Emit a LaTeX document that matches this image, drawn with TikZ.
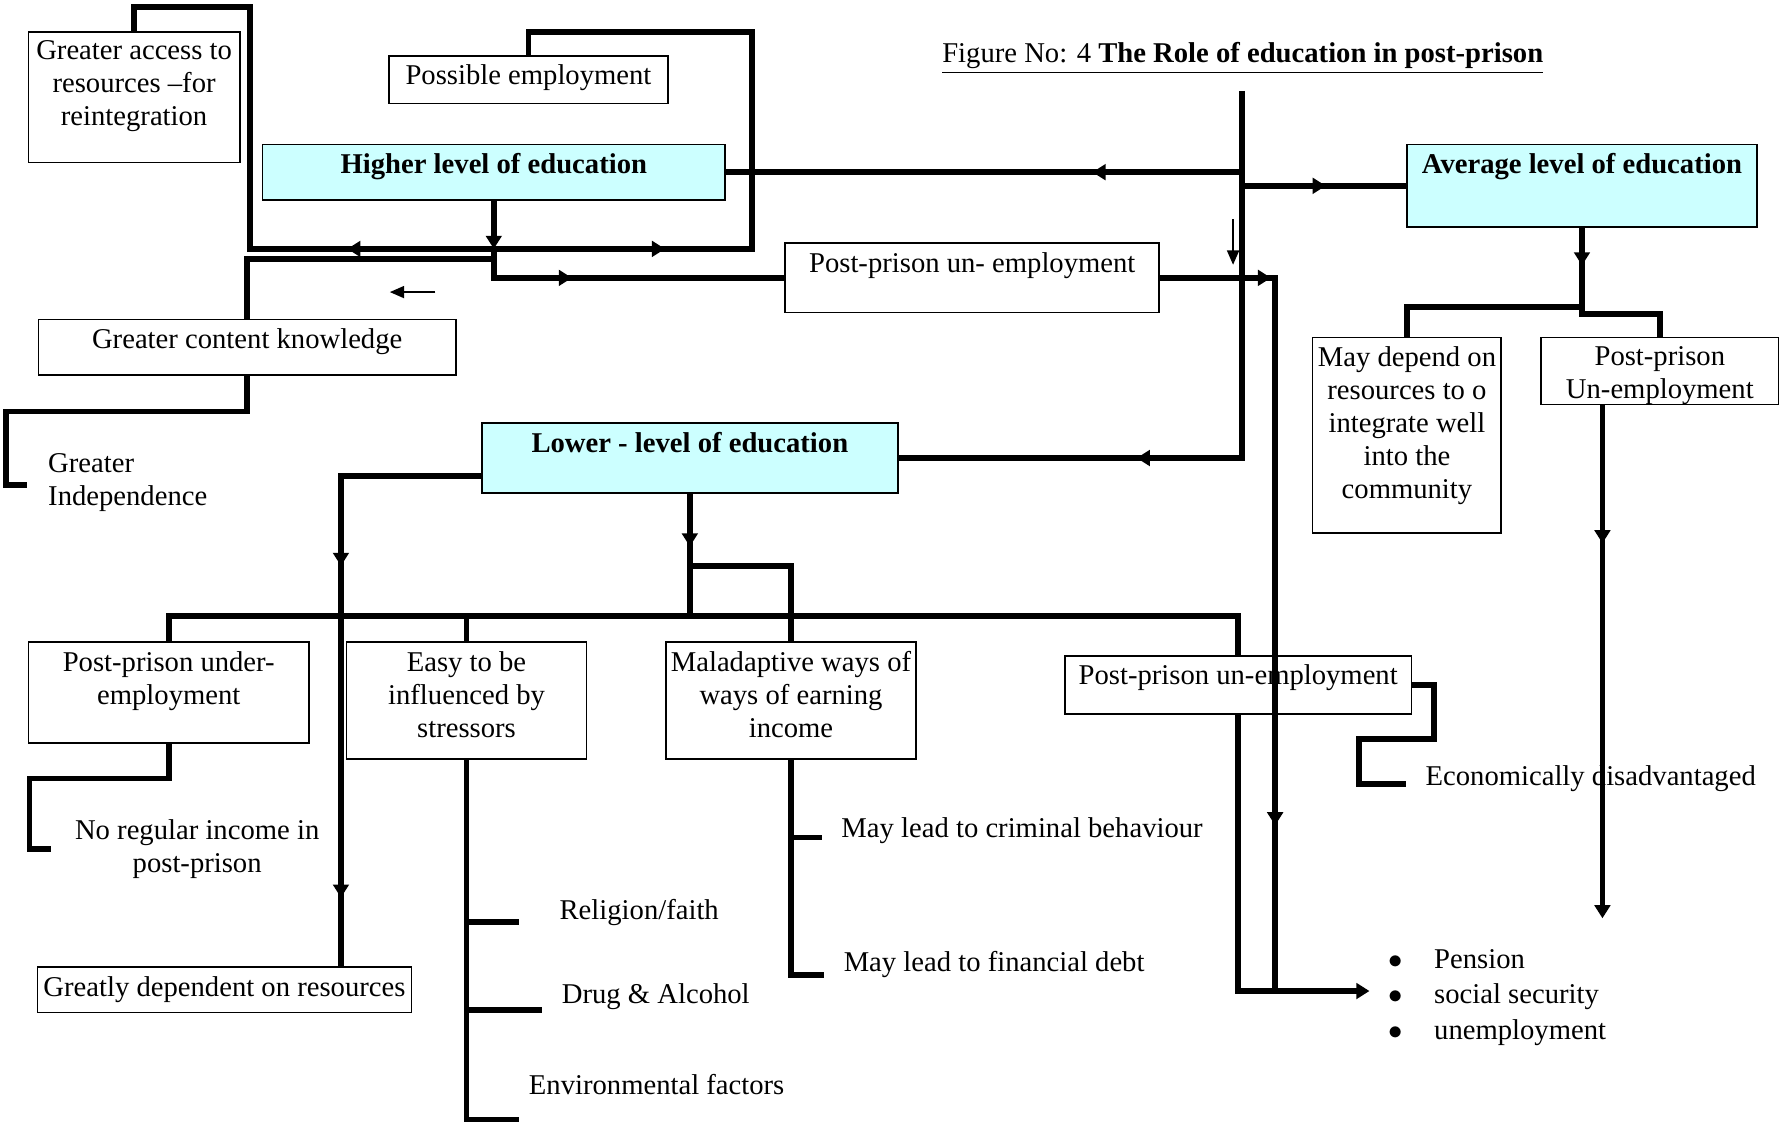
\documentclass[tikz,border=0pt]{standalone}
\usepackage{fontspec}
\setmainfont{Liberation Serif}
\usetikzlibrary{positioning,fit,arrows.meta,decorations.markings}

\definecolor{educyan}{HTML}{CCFFFF}

\tikzset{
  box/.style={draw, line width=0.7pt, inner sep=0pt},
  edubox/.style={box, fill=educyan},
  txt/.style={font=\fontsize{12}{13.8}\selectfont, inner sep=0pt, align=center},
  btxt/.style={txt, font=\fontsize{12}{13.8}\selectfont\bfseries},
  conn/.style={line width=2.4pt},
  tip/.style={-{Triangle[length=5.5pt,width=6.5pt]}},
  thinarr/.style={line width=0.8pt, -{Triangle[length=6pt,width=5pt]}},
  marr/.style={postaction={decorate, decoration={markings,
      mark=at position #1 with {\arrow{Triangle[length=5.5pt,width=6.5pt]}}}}},
}
\newcommand{\bigbul}{\makebox[19.3pt][l]{$\bullet$}}

\begin{document}
\begin{tikzpicture}[x=0.476pt, y=-0.476pt]
\useasboundingbox (0,0) rectangle (1568,988);

% Title
\node[txt, anchor=base] (title) at (1093.5,55) {\underline{Figure No: 4 \textbf{The Role of education in post-prison}}};

% Boxes
\node[box, fit={(25,28) (211,143)}] (gacc) {};
\node[txt, below=4pt of gacc.north] (gacc-t) {Greater access to\\resources --for\\reintegration};
\node[box, fit={(342,49) (588,91)}] (posemp) {};
\node[txt, below=4pt of posemp.north] (posemp-t) {Possible employment};
\node[edubox, fit={(231,127) (638,176)}] (high) {};
\node[btxt, below=4pt of high.north] (high-t) {Higher level of education};
\node[box, fit={(691,214) (1020,275)}] (unemp) {};
\node[txt, below=4pt of unemp.north] (unemp-t) {Post-prison un- employment};
\node[box, fit={(34,281) (401,330)}] (gck) {};
\node[txt, below=4pt of gck.north] (gck-t) {Greater content knowledge};
\node[edubox, fit={(1238,127) (1546,200)}] (avg) {};
\node[btxt, below=4pt of avg.north] (avg-t) {Average level of education};
\node[box, fit={(1155,297) (1321,469)}] (mayd) {};
\node[txt, below=4pt of mayd.north] (mayd-t) {May depend on\\resources to o\\integrate well\\into the\\community};
\node[box, fit={(1356,297) (1565,356)}] (ppun) {};
\node[txt, below=4pt of ppun.north] (ppun-t) {Post-prison\\Un-employment};
\node[edubox, fit={(424,372) (790,434)}] (low) {};
\node[btxt, below=4pt of low.north] (low-t) {Lower - level of education};
\node[box, fit={(25,565) (272,654)}] (under) {};
\node[txt, below=4pt of under.north] (under-t) {Post-prison under-\\employment};
\node[box, fit={(305,565) (516,668)}] (easy) {};
\node[txt, below=4pt of easy.north] (easy-t) {Easy to be\\influenced by\\stressors};
\node[box, fit={(586,565) (806,668)}] (malad) {};
\node[txt, below=4pt of malad.north] (malad-t) {Maladaptive ways of\\ways of earning\\income};
\node[box, fit={(937,577) (1242,628)}] (unemp2) {};
\node[box, fit={(33,851) (362,891)}] (gdep) {};
\node[txt, below=4pt of gdep.north] (gdep-t) {Greatly dependent on resources};

% Free texts
\node[txt, align=left, anchor=north west] (indep) at (42,399) {Greater\\Independence};
\node[txt, anchor=north] (noinc) at (173.5,721) {No regular income in\\post-prison};
\node[txt, anchor=west] (relig) at (492,803) {Religion/faith};
\node[txt, anchor=west] (drug) at (494,877) {Drug \& Alcohol};
\node[txt, anchor=west] (env) at (465,954) {Environmental factors};
\node[txt, anchor=west] (crim) at (740,731) {May lead to criminal behaviour};
\node[txt, anchor=west] (debt) at (742,849) {May lead to financial debt};
\node[txt, anchor=west] (econ) at (1254,685) {Economically disadvantaged};
\node[txt, align=left, anchor=north west, font=\fontsize{12}{14.8}\selectfont] (bul) at (1221,835)
  {\bigbul Pension\\\bigbul social security\\\bigbul unemployment};

% Higher level branches
\coordinate (hj) at (434.5,219);
\coordinate (hk) at (434.5,228);
\draw[conn, tip] (high.south) -- (hj);
\draw[conn, marr=0.234] (hj) -- (220,219) -- (220,6) -| (gacc.north);
\draw[conn, marr=0.237] (hj) -- (662,219) -- (662,28) -| (posemp.north);
\draw[conn, marr=0.335] (hj) |- (unemp.west);
\draw[conn] (hk) -| (gck.north);
\coordinate (s1) at (383,257);
\coordinate (s2) at (343,257);
\draw[thinarr] (s1) -- (s2);
\coordinate (indep-in) at (24,427);
\draw[conn] (gck.south) |- (5,362) |- (indep-in);

% Centre line
\coordinate (ctop) at (1093,80);
\draw[conn, marr=0.665] (ctop) |- (low.east);
\draw[conn, marr=0.29] (ctop |- high.east) -- (high.east);
\draw[conn, marr=0.51] (ctop |- avg.west) -- (avg.west);
\coordinate (t1) at (1085,193);
\coordinate (t2) at (1085,233);
\draw[thinarr] (t1) -- (t2);

% Un-employment to benefits
\coordinate (bj) at (1122,872);
\coordinate (barr) at (1205,872);
\draw[conn, marr=0.134, marr=0.80] (unemp.east) -| (bj);

% Lower level branches
\coordinate (lj) at (607,542);
\coordinate (lm) at (607,498);
\draw[conn, marr=0.43] (low.south) -- (lj);
\draw[conn] (under.north) |- (lj) -| (unemp2.north);
\draw[conn] (easy.north) -- (easy.north |- lj);
\draw[conn] (lm) -| (malad.north);
\coordinate (lw) at (424,419);
\coordinate (gdep-in) at (300,851);
\draw[conn, marr=0.365, marr=0.89] (lw) -| (gdep-in);
\coordinate (noinc-in) at (45,747);
\draw[conn] (under.south) |- (26,685) |- (noinc-in);
\coordinate (relig-in) at (457,811);
\coordinate (drug-in) at (477,889);
\coordinate (env-in) at (457,985);
\draw[conn] (easy.south) |- (env-in);
\draw[conn] (easy.south |- relig-in) -- (relig-in);
\draw[conn] (easy.south |- drug-in) -- (drug-in);
\coordinate (crim-in) at (723,737);
\coordinate (debt-in) at (725,858);
\draw[conn] (malad.south) |- (debt-in);
\draw[conn] (malad.south |- crim-in) -- (crim-in);
\coordinate (econ-in) at (1237,690);
\draw[conn] (unemp2.east) -| (1262,650) -| (1196,690) -- (econ-in);
\draw[conn, tip] (unemp2.south) |- (barr);
\node[txt, below=4pt of unemp2.north] (unemp2-t) {Post-prison un-employment};

% Average level branches
\coordinate (aj1) at (1392,270);
\coordinate (aj2) at (1392,276);
\draw[conn, marr=0.2] (avg.south) -- (aj2) -| (ppun.north);
\draw[conn] (aj1) -| (mayd.north);
\coordinate (pp-s) at (1410,356);
\coordinate (pp-e) at (1410,808);
\draw[conn, tip, marr=0.27] (pp-s) -- (pp-e);

\end{tikzpicture}
\end{document}
